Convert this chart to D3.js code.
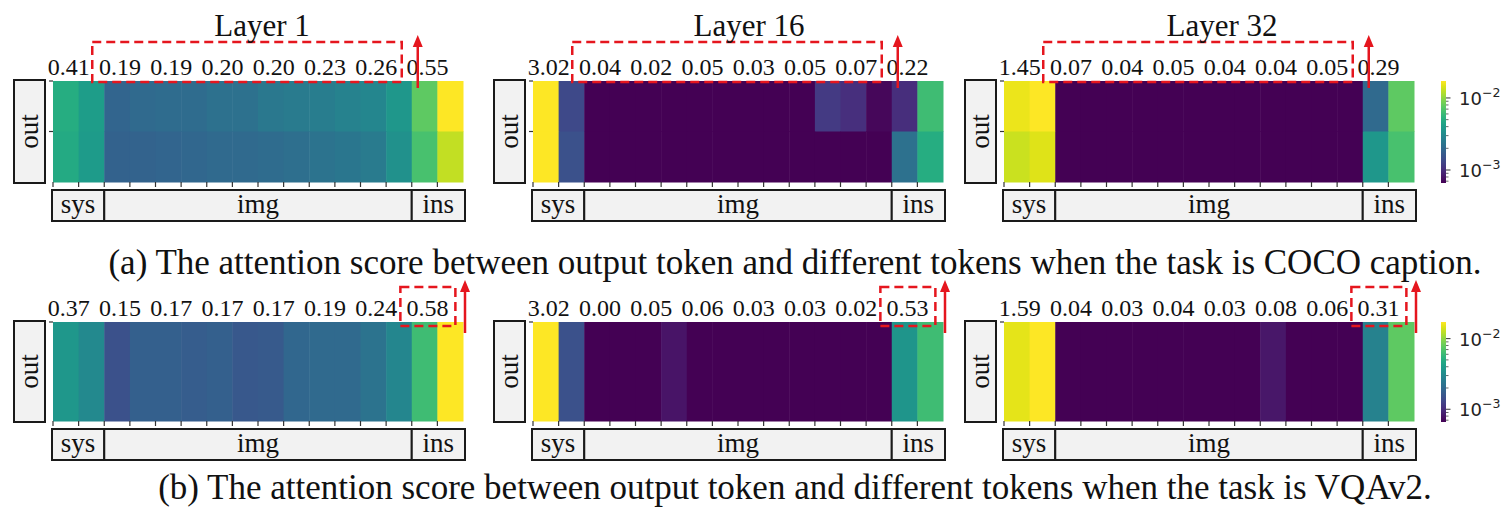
<!DOCTYPE html>
<html>
<head>
<meta charset="utf-8">
<script src="https://cdn.jsdelivr.net/npm/d3@7"></script>
<style>
  body { margin: 0; background: #fff; }
  svg { display: block; }
  .serif { font-family: "Liberation Serif", "DejaVu Serif", serif; fill: #111; }
  .sans { font-family: "DejaVu Sans", sans-serif; fill: #222; }
</style>
</head>
<body>
<svg id="chart" width="1504" height="508"></svg>
<script>
// Attention of the output token over the prompt tokens (units of 1e-3).
// Columns: 2 system tokens, 12 image tokens, 2 instruction tokens.
const tokenGroups = [
  { name: "sys", count: 2 },
  { name: "img", count: 12 },
  { name: "ins", count: 2 }
];
const layerNames = ["Layer 1", "Layer 16", "Layer 32"];

// COCO caption task (two output rows)
const cocoLayer1 = [
  [5.00, 4.00, 1.88, 2.00, 2.07, 2.07, 2.21, 2.21, 2.43, 2.52, 2.60, 2.77, 2.96, 3.72, 7.62, 17.2],
  [4.80, 3.90, 1.82, 1.85, 1.88, 1.94, 2.00, 2.00, 2.07, 2.14, 2.28, 2.36, 2.52, 3.37, 6.69, 12.8]
];
const cocoLayer16 = [
  [17.2, 1.35, 0.60, 0.60, 0.60, 0.60, 0.60, 0.60, 0.60, 0.60, 0.60, 1.15, 1.02, 0.70, 1.01, 6.27],
  [17.2, 1.49, 0.60, 0.60, 0.60, 0.60, 0.60, 0.60, 0.60, 0.60, 0.60, 0.60, 0.60, 0.60, 2.21, 4.99]
];
const cocoLayer32 = [
  [15.6, 17.2, 0.60, 0.60, 0.60, 0.60, 0.60, 0.60, 0.60, 0.60, 0.60, 0.60, 0.60, 0.60, 2.00, 7.62],
  [13.3, 14.6, 0.60, 0.60, 0.60, 0.60, 0.60, 0.60, 0.60, 0.60, 0.60, 0.60, 0.60, 0.60, 3.72, 6.69]
];

// VQAv2 task (one output row)
const vqaLayer1 = [
  [3.72, 3.06, 1.49, 1.76, 1.76, 1.70, 1.76, 1.59, 1.64, 1.94, 2.00, 2.00, 2.28, 2.96, 6.27, 17.2]
];
const vqaLayer16 = [
  [17.2, 1.49, 0.60, 0.60, 0.60, 0.78, 0.60, 0.60, 0.60, 0.60, 0.60, 0.60, 0.60, 0.60, 3.60, 6.27]
];
const vqaLayer32 = [
  [15.1, 17.2, 0.60, 0.60, 0.60, 0.60, 0.60, 0.60, 0.60, 0.60, 0.80, 0.60, 0.60, 0.60, 2.77, 7.62]
];

// Summed scores printed above each pair of columns
const cocoScores = [
  ["0.41", "0.19", "0.19", "0.20", "0.20", "0.23", "0.26", "0.55"],
  ["3.02", "0.04", "0.02", "0.05", "0.03", "0.05", "0.07", "0.22"],
  ["1.45", "0.07", "0.04", "0.05", "0.04", "0.04", "0.05", "0.29"]
];
const vqaScores = [
  ["0.37", "0.15", "0.17", "0.17", "0.17", "0.19", "0.24", "0.58"],
  ["3.02", "0.00", "0.05", "0.06", "0.03", "0.03", "0.02", "0.53"],
  ["1.59", "0.04", "0.03", "0.04", "0.03", "0.08", "0.06", "0.31"]
];

const colorbarTicks = [1e-3, 1e-2];
const captions = [
  "(a) The attention score between output token and different tokens when the task is COCO caption.",
  "(b) The attention score between output token and different tokens when the task is VQAv2."
];

// ---------------------------------------------------------------
const svg = d3.select("#chart");
const RED = "#e5161e";
const UNIT = 1e-3;
const colorDomain = [6.6e-4, 1.72e-2];
const color = d3.scaleSequentialLog(d3.interpolateViridis).domain(colorDomain).clamp(true);

const panelX = [53, 533, 1004];
const panelW = 410;
const nCols = d3.sum(tokenGroups, d => d.count);

const rowsLayout = [
  { data: [cocoLayer1, cocoLayer16, cocoLayer32], scores: cocoScores, top: 81, bottom: 182,
    focus: "img", caption: captions[0], captionY: 274, titles: true },
  { data: [vqaLayer1, vqaLayer16, vqaLayer32], scores: vqaScores, top: 322, bottom: 421,
    focus: "ins", caption: captions[1], captionY: 499, titles: false }
];

const titleShift = [4, 11, 13];

// colorbar gradient
const defs = svg.append("defs");
const grad = defs.append("linearGradient").attr("id", "cbGrad")
  .attr("x1", 0).attr("y1", 1).attr("x2", 0).attr("y2", 0);
d3.range(0, 1.0001, 0.05).forEach(t => {
  grad.append("stop").attr("offset", t).attr("stop-color", d3.interpolateViridis(t));
});

function groupStart(name) {
  let s = 0;
  for (const g of tokenGroups) { if (g.name === name) return s; s += g.count; }
  return 0;
}

// vertical arrow pointing up, tip at yTip
function upArrow(g, xPos, yFrom, yTip) {
  const headH = 12, headW = 5;
  g.append("line")
    .attr("x1", xPos).attr("x2", xPos).attr("y1", yFrom).attr("y2", yTip + headH - 1)
    .attr("stroke", RED).attr("stroke-width", 2.5);
  g.append("path")
    .attr("d", `M${xPos},${yTip} L${xPos + headW},${yTip + headH} L${xPos - headW},${yTip + headH} Z`)
    .attr("fill", RED);
}

rowsLayout.forEach((row) => {
  row.data.forEach((matrix, p) => {
    const g = svg.append("g");
    const x0 = panelX[p];
    const x = d3.scaleBand().domain(d3.range(nCols)).range([x0, x0 + panelW]);
    const y = d3.scaleBand().domain(d3.range(matrix.length)).range([row.top, row.bottom]);

    // heatmap cells
    matrix.forEach((vals, r) => {
      g.selectAll(null).data(vals).join("rect")
        .attr("x", (d, i) => x(i))
        .attr("y", y(r))
        .attr("width", x.bandwidth() + 0.5)
        .attr("height", y.bandwidth() + 0.5)
        .attr("fill", d => color(d * UNIT));
    });

    // column ticks below, row ticks on the left
    g.selectAll(null).data(d3.range(nCols)).join("line")
      .attr("x1", i => x(i)).attr("x2", i => x(i))
      .attr("y1", row.bottom).attr("y2", row.bottom + 5)
      .attr("stroke", "#333").attr("stroke-width", 1.2);
    g.selectAll(null).data(d3.range(matrix.length)).join("line")
      .attr("x1", x0 - 4).attr("x2", x0)
      .attr("y1", r => y(r)).attr("y2", r => y(r))
      .attr("stroke", "#333").attr("stroke-width", 1.2);

    // "out" row label box
    g.append("rect")
      .attr("x", x0 - 39).attr("y", row.top - 1)
      .attr("width", 31).attr("height", row.bottom - row.top + 2)
      .attr("fill", "#f2f2f2").attr("stroke", "#1a1a1a").attr("stroke-width", 2);
    g.append("text").attr("class", "serif")
      .attr("transform", `translate(${x0 - 23.5},${(row.top + row.bottom) / 2}) rotate(-90)`)
      .attr("text-anchor", "middle").attr("dy", "0.33em")
      .style("font-size", "27px").text("out");

    // token group boxes
    const boxTop = row.bottom + 8, boxH = 31;
    let start = 0;
    tokenGroups.forEach((tg, k) => {
      const left = k === 0 ? x0 - 1 : x(start);
      const right = k === tokenGroups.length - 1 ? x0 + panelW + 2 : x(start + tg.count);
      g.append("rect")
        .attr("x", left).attr("y", boxTop).attr("width", right - left).attr("height", boxH)
        .attr("fill", "#f2f2f2").attr("stroke", "#1a1a1a").attr("stroke-width", 2);
      g.append("text").attr("class", "serif")
        .attr("x", (left + right) / 2).attr("y", boxTop + 23)
        .attr("text-anchor", "middle").style("font-size", "27px").text(tg.name);
      start += tg.count;
    });

    // pair scores above the heatmap
    const baseY = row.top - 6;
    const labelX = k => x(2 * k) + x.bandwidth() - 10;
    g.selectAll(null).data(row.scores[p]).join("text")
      .attr("class", "serif")
      .attr("x", (d, k) => labelX(k)).attr("y", baseY)
      .attr("text-anchor", "middle").style("font-size", "24px")
      .text(d => d);

    // highlighted region: dashed box and arrow
    let bx0, bx1, by0, by1, ax, ay0, ay1;
    if (row.focus === "img") {
      const s = groupStart("img");
      bx0 = x(s) - 12; bx1 = x(s + 12) - 10;
      by0 = baseY - 33; by1 = baseY + 7;
      ax = x(s + 12) + 6; ay0 = row.top + 7; ay1 = 35;
    } else {
      const k = groupStart("ins") / 2;
      bx0 = labelX(k) - 27; bx1 = labelX(k) + 28;
      by0 = baseY - 29; by1 = baseY + 10;
      ax = x0 + panelW + 2; ay0 = row.top + 11; ay1 = 280;
    }
    g.append("rect")
      .attr("x", bx0).attr("y", by0).attr("width", bx1 - bx0).attr("height", by1 - by0)
      .attr("fill", "none").attr("stroke", RED).attr("stroke-width", 2.5)
      .attr("stroke-dasharray", "9,5");
    upArrow(g, ax, ay0, ay1);

    if (row.titles) {
      g.append("text").attr("class", "serif")
        .attr("x", x0 + panelW / 2 + titleShift[p]).attr("y", 36)
        .attr("text-anchor", "middle").style("font-size", "31px")
        .text(layerNames[p]);
    }

    // colorbar next to the last panel
    if (p === row.data.length - 1) {
      const cbX = 1441, cbW = 5;
      const cy = d3.scaleLog().domain(colorDomain).range([row.bottom + 1, row.top]);
      g.append("rect").attr("x", cbX).attr("y", row.top).attr("width", cbW)
        .attr("height", row.bottom + 1 - row.top).attr("fill", "url(#cbGrad)");
      const minor = [7e-4, 8e-4, 9e-4, 2e-3, 3e-3, 4e-3, 5e-3, 6e-3, 7e-3, 8e-3, 9e-3];
      g.selectAll(null).data(minor).join("line")
        .attr("x1", cbX + cbW).attr("x2", cbX + cbW + 2.5)
        .attr("y1", d => cy(d)).attr("y2", d => cy(d))
        .attr("stroke", "#444").attr("stroke-width", 0.8);
      g.selectAll(null).data(colorbarTicks).join("line")
        .attr("x1", cbX + cbW).attr("x2", cbX + cbW + 4.5)
        .attr("y1", d => cy(d)).attr("y2", d => cy(d))
        .attr("stroke", "#333").attr("stroke-width", 1);
      const tl = g.selectAll(null).data(colorbarTicks).join("text")
        .attr("class", "sans")
        .attr("x", cbX + cbW + 13).attr("y", d => cy(d) + 7)
        .style("font-size", "18px");
      tl.append("tspan").text("10");
      tl.append("tspan").attr("dy", -8).style("font-size", "12.5px")
        .text(d => "\u2212" + Math.round(-Math.log10(d)));
    }
  });

  svg.append("text").attr("class", "serif")
    .attr("x", 795).attr("y", row.captionY)
    .attr("text-anchor", "middle").style("font-size", "35px")
    .text(row.caption);
});
</script>
</body>
</html>
